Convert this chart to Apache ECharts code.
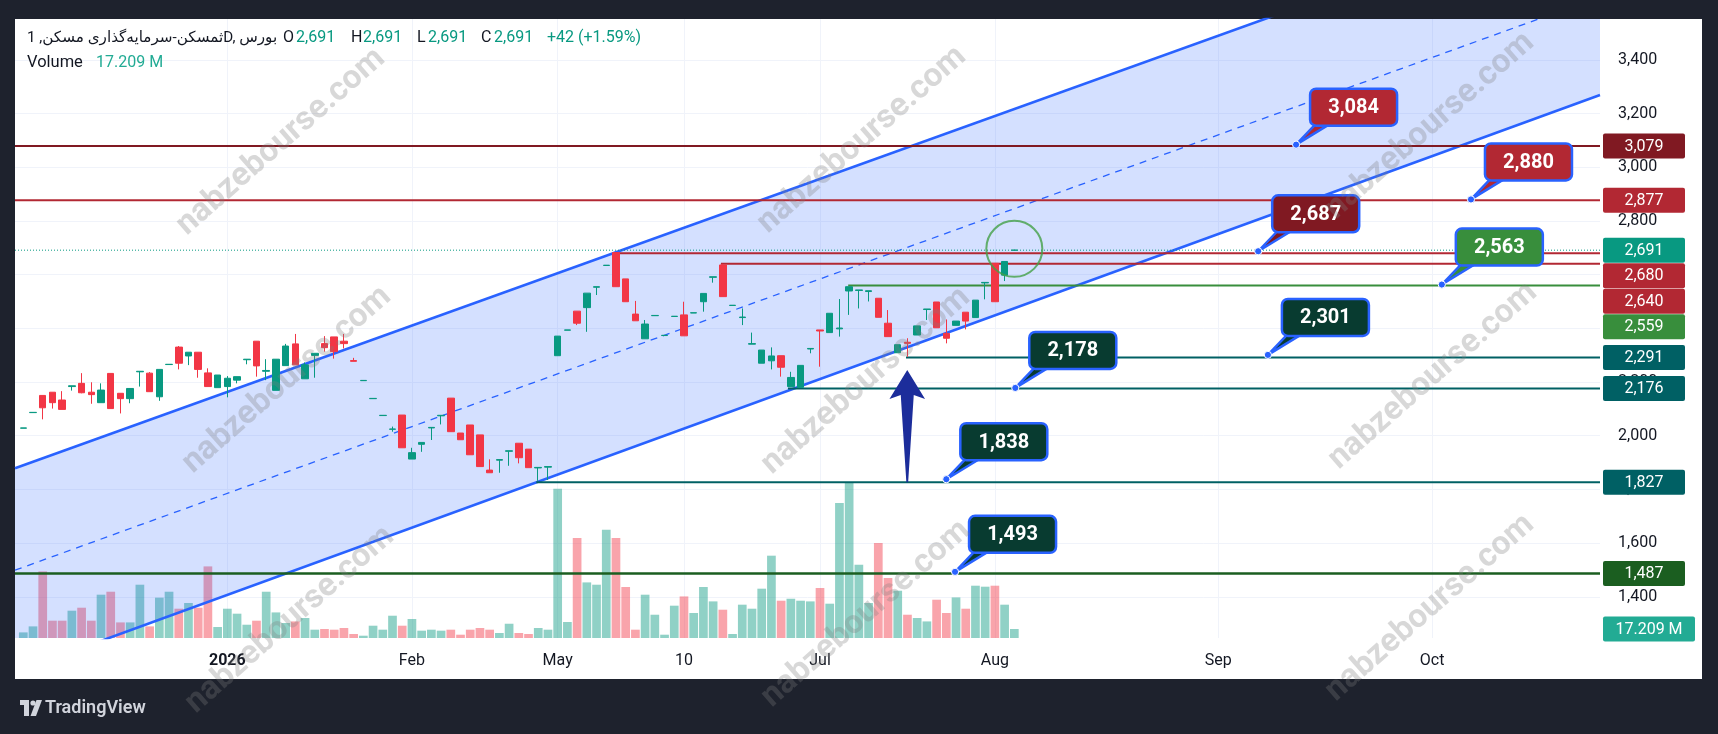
<!DOCTYPE html>
<html><head><meta charset="utf-8">
<script src="https://cdn.jsdelivr.net/npm/echarts@6/dist/echarts.min.js"></script>
<style>html,body{margin:0;padding:0;background:#1e222d}#c{width:1718px;height:734px}</style>
</head><body><div id="c"></div>
<script>
// ---------------- DATA ----------------
const xTickIdx  = [21, 40, 55, 68, 82, 100, 123, 145];
const xTickText = ['2026', 'Feb', 'May', '10', 'Jul', 'Aug', 'Sep', 'Oct'];
const priceTicks = [1400, 1600, 1800, 2000, 2200, 2400, 2600, 2800, 3000, 3200, 3400];

// [open, close, low, high]
const ohlc = [
 [2028,2029,2028,2029],[2086,2087,2086,2087],[2150,2104,2061,2150],[2162,2123,2101,2162],[2133,2098,2098,2166],
 [2183,2186,2168,2186],[2195,2160,2158,2233],[2162,2153,2119,2199],[2123,2170,2123,2195],[2232,2101,2101,2232],
 [2158,2138,2083,2158],[2138,2176,2121,2176],[2238,2240,2183,2240],[2233,2164,2164,2237],[2145,2247,2130,2247],
 [2265,2266,2265,2266],[2330,2270,2247,2334],[2297,2311,2263,2311],[2311,2247,2216,2311],[2234,2183,2183,2251],
 [2179,2226,2179,2226],[2183,2214,2143,2222],[2207,2220,2195,2220],[2283,2285,2266,2285],[2352,2260,2220,2352],
 [2240,2243,2207,2285],[2169,2285,2169,2285],[2261,2334,2261,2342],[2342,2264,2264,2379],[2212,2264,2212,2273],
 [2299,2307,2216,2307],[2343,2328,2313,2371],[2368,2313,2287,2368],[2352,2343,2325,2379],[2280,2277,2277,2290],
 [2205,2206,2205,2206],[2138,2139,2138,2139],[2075,2076,2075,2076],[2024,2025,2015,2034],[2077,1955,1955,2077],
 [1913,1937,1913,1955],[1968,1975,1940,1975],[2029,2031,1984,2031],[2074,2076,2042,2076],[2140,2015,2015,2140],
 [2010,1985,1985,2010],[2040,1929,1929,2040],[2003,1885,1885,2003],[1872,1862,1862,1912],[1909,1911,1862,1911],
 [1942,1944,1888,1944],[1972,1918,1897,1972],[1950,1881,1881,1950],[1880,1882,1832,1882],[1883,1885,1835,1885],
 [2298,2371,2298,2371],[2393,2394,2393,2394],[2464,2419,2412,2464],[2477,2531,2387,2531],[2553,2555,2524,2555],
 [2634,2635,2634,2635],[2682,2555,2555,2682],[2584,2499,2499,2584],[2453,2428,2428,2502],[2361,2416,2361,2431],
 [2447,2448,2447,2448],[2373,2374,2373,2374],[2444,2445,2444,2445],[2450,2372,2372,2499],[2457,2458,2457,2458],
 [2499,2530,2462,2530],[2590,2592,2570,2592],[2636,2518,2518,2640],[2485,2486,2485,2486],[2440,2442,2412,2474],
 [2341,2343,2341,2384],[2270,2319,2270,2319],[2279,2297,2247,2329],[2298,2255,2220,2298],[2183,2217,2183,2238],
 [2180,2262,2180,2262],[2323,2325,2307,2325],[2394,2390,2257,2394],[2384,2456,2384,2456],[2398,2401,2369,2509],
 [2539,2555,2450,2555],[2541,2543,2474,2543],[2537,2540,2500,2540],[2512,2441,2441,2512],[2419,2369,2369,2468],
 [2309,2339,2309,2339],[2348,2344,2294,2363],[2375,2409,2375,2409],[2470,2472,2431,2472],[2498,2402,2402,2498],
 [2381,2363,2344,2433],[2411,2427,2411,2427],[2460,2427,2396,2460],[2440,2505,2440,2505],[2569,2571,2508,2571],
 [2642,2499,2499,2642],[2598,2649,2576,2649],[2691,2691,2691,2691]
];
// volume, millions
const volumes = [
 10.7,22.2,127.3,33.1,33.1,52.2,57.9,33.1,82.8,88.5,
 29.8,29.8,101.9,22.2,77.1,88.5,56.0,66.9,57.9,136.9,
 21.0,56.0,46.5,25.4,33.1,88.5,48.9,28.7,31.7,38.2,
 15.9,17.2,15.9,19.1,7.6,4.4,23.5,15.9,42.6,23.5,
 36.3,14.0,15.9,14.0,15.9,6.3,15.9,19.1,15.9,9.6,
 27.3,9.6,7.6,19.1,15.9,285.5,30.6,191.2,106.3,101.9,
 207.1,191.2,97.5,15.9,82.8,44.5,6.3,61.8,79.5,47.8,
 97.5,70.0,54.1,7.6,63.7,56.0,94.3,157.4,71.3,75.1,
 71.3,70.0,95.6,65.6,258.1,296.4,140.1,66.9,181.6,114.7,
 90.4,44.5,38.2,31.7,73.2,47.8,77.6,56.0,100.0,98.1,
 100.0,63.7,17.209
];
// channel anchor points [barIndex, price]
const channelUpper = [[0, 1890.2], [160, 3971.0]];
const channelLower = [[0, 1130.4], [160, 3239.0]];
// horizontal levels
const levelPrices = [3079, 2877, 2680, 2640, 2559, 2291, 2176, 1827, 1487];
const levelStart  = [null, null, 60.9, 71.8, 84.9, 90.85, 78.7, 52.8, null];
// callouts
const calloutK     = [131.0, 149.0, 127.1, 146.0, 128.1, 102.1, 95.0, 95.9];
const calloutValue = [3084, 2880, 2687, 2563, 2301, 2178, 1838, 1493];
// arrow [barIndex, fromPrice, toPrice]
const arrowMark = [90.98, 1827, 2245];
// circle [barIndex, price]
const circleMark = [102, 2696];
// price axis tags
const tagValues = [3079, 2877, 2691, 2680, 2640, 2559, 2291, 2176, 1827, 1487];
const titleText = 'ثمسکن-سرمایه‌گذاری مسکن, 1D, بورس';

// ---------------- STYLE ----------------
const FONT = 'Roboto, "Noto Sans", "DejaVu Sans", sans-serif';
const UP = '#089981', DOWN = '#f23645';
const levelColors = ['#801922', '#b22833', '#b22833', '#b22833', '#388e3c', '#006064', '#006064', '#006064', '#1b5e20'];
const levelWidths = [2, 2, 2, 2, 2, 2, 2, 2, 2.6];
const calloutColors = ['#b22833', '#b22833', '#801922', '#388e3c', '#083b30', '#083b30', '#083b30', '#083b30'];
const tagColors = ['#801922', '#b22833', '#089981', '#b22833', '#b22833', '#388e3c', '#006064', '#006064', '#006064', '#1b5e20'];

const X_MIN = -0.854, X_MAX = 162.28;
const Y_MIN = 1246.6, Y_MAX = 3552;
const VOL_MAX = 1183.6;

const fmt = v => v.toLocaleString('en-US');
function extend(pts) {
  const [a, b] = pts; const s = (b[1] - a[1]) / (b[0] - a[0]);
  return [[X_MIN, a[1] + s * (X_MIN - a[0])], [X_MAX, a[1] + s * (X_MAX - a[0])]];
}
const up = ohlc.map((d, i) => d[1] > d[0] || (d[1] === d[0] && (i === 0 || d[1] >= ohlc[i - 1][1])));
const upper = extend(channelUpper), lower = extend(channelLower);
const mid = [[X_MIN, (upper[0][1] + lower[0][1]) / 2], [X_MAX, (upper[1][1] + lower[1][1]) / 2]];

const last = ohlc[ohlc.length - 1], prevClose = ohlc[ohlc.length - 2][1];
const chg = last[1] - prevClose;
const chgTxt = (chg >= 0 ? '+' : '') + chg + ' (' + (chg >= 0 ? '+' : '') + (chg / prevClose * 100).toFixed(2) + '%)';
const volTxt = volumes[volumes.length - 1].toFixed(3) + ' M';

const chart = echarts.init(document.getElementById('c'), null, { renderer: 'canvas' });

const gridClip = params => ({ type: 'rect', shape: { x: params.coordSys.x, y: params.coordSys.y, width: params.coordSys.width, height: params.coordSys.height } });

let tagY = [];
const series = [
  { type: 'bar', name: 'vol', yAxisIndex: 1, barWidth: 8.7, z: 1, silent: true,
    data: volumes.map((v, i) => ({ value: [i, v], itemStyle: { color: up[i] ? 'rgba(8,153,129,0.45)' : 'rgba(242,54,69,0.45)' } })) },
  { type: 'custom', z: 2, silent: true, clip: true, data: [[0, 2000]],
    renderItem(params, api) {
      const pts = [upper[0], upper[1], lower[1], lower[0]].map(p => api.coord(p));
      return { type: 'polygon', shape: { points: pts }, style: { fill: 'rgba(41,98,255,0.2)' }, clipPath: gridClip(params) };
    } },
  { type: 'line', symbol: 'none', z: 3, silent: true, lineStyle: { color: '#2962ff', width: 2.6 }, data: upper },
  { type: 'line', symbol: 'none', z: 3, silent: true, lineStyle: { color: '#2962ff', width: 2.6 }, data: lower },
  { type: 'line', symbol: 'none', z: 3, silent: true, lineStyle: { color: '#2962ff', width: 1.3, type: [7, 6] }, data: mid },
  ...levelPrices.map((p, i) => ({ type: 'line', symbol: 'none', z: 3, silent: true,
    lineStyle: { color: levelColors[i], width: levelWidths[i] },
    data: [[levelStart[i] == null ? X_MIN : levelStart[i], p], [X_MAX, p]] })),
  { type: 'line', symbol: 'none', z: 3, silent: true, lineStyle: { color: UP, width: 1, type: [1, 2] },
    data: [[X_MIN, last[1]], [X_MAX, last[1]]] },
  { type: 'candlestick', z: 4, barWidth: 7, silent: true,
    encode: { x: 0, y: [1, 2, 3, 4] },
    data: ohlc.map((d, i) => [i, d[0], d[1], d[2], d[3]]),
    itemStyle: { color: UP, color0: DOWN, borderColor: UP, borderColor0: DOWN, borderColorDoji: UP, borderWidth: 1 } },
  { type: 'scatter', z: 5, silent: true, symbol: 'circle', symbolSize: 56,
    itemStyle: { color: 'rgba(0,0,0,0)', borderColor: '#43a047', borderWidth: 2 }, data: [circleMark] },
  { type: 'custom', z: 5, silent: true, data: [arrowMark],
    renderItem(params, api) {
      const b = api.coord([api.value(0), api.value(1)]);
      const t = api.coord([api.value(0), api.value(2)]);
      const cx = t[0], ty = t[1];
      return { type: 'polygon', shape: { points: [[cx, ty], [cx + 17.8, ty + 29], [cx + 6.5, ty + 25], [cx + 0.9, b[1]], [cx - 0.9, b[1]], [cx - 6.5, ty + 25], [cx - 17.8, ty + 29]] },
        style: { fill: '#1c2d9b' } };
    } },
  { type: 'custom', z: 6, silent: true, data: calloutK.map((k, i) => [k, calloutValue[i]]),
    renderItem(params, api) {
      const i = params.dataIndex;
      const p = api.coord([api.value(0), api.value(1)]);
      const L = p[0] + 14, B = p[1] - 19, W = 87, H = 37;
      const fill = calloutColors[i];
      return { type: 'group', children: [
        { type: 'polygon', shape: { points: [[p[0], p[1]], [L + 7, B - 3], [L + 22, B - 3]] }, style: { fill, stroke: '#2962ff', lineWidth: 2.5, lineJoin: 'round' } },
        { type: 'rect', shape: { x: L, y: B - H, width: W, height: H, r: 6 }, style: { fill, stroke: '#2962ff', lineWidth: 2.5 } },
        { type: 'text', style: { text: fmt(calloutValue[i]), x: L + W / 2, y: B - H / 2 + 1, align: 'center', verticalAlign: 'middle', fill: '#ffffff', fontSize: 20, fontWeight: 'bold', fontFamily: FONT } },
        { type: 'circle', shape: { cx: p[0], cy: p[1], r: 3.6 }, style: { fill: '#2962ff', stroke: '#ffffff', lineWidth: 1 } }
      ] };
    } },
  { type: 'custom', z: 7, silent: true, clip: false, data: tagValues.map(v => [X_MAX, v]),
    renderItem(params, api) {
      const i = params.dataIndex;
      if (i === 0) {
        let prev = -Infinity;
        tagY = tagValues.map(v => { const y = Math.max(api.coord([X_MAX, v])[1], prev + 25.5); prev = y; return y; });
      }
      const y = tagY[i];
      const x = params.coordSys.x + params.coordSys.width + 3;
      return { type: 'group', children: [
        { type: 'rect', shape: { x, y: y - 12.5, width: 82, height: 25, r: 2 }, style: { fill: tagColors[i] } },
        { type: 'text', style: { text: fmt(tagValues[i]), x: x + 41, y: y + 0.5, align: 'center', verticalAlign: 'middle', fill: '#ffffff', fontSize: 16, fontFamily: FONT } }
      ] };
    } },
  { type: 'custom', z: 7, silent: true, clip: false, yAxisIndex: 1, data: [[X_MAX, volumes[volumes.length - 1]]],
    renderItem(params, api) {
      const y = api.coord([api.value(0), api.value(1)])[1];
      const x = params.coordSys.x + params.coordSys.width + 3;
      return { type: 'group', children: [
        { type: 'rect', shape: { x, y: y - 12.5, width: 92, height: 25, r: 2 }, style: { fill: '#22ab94' } },
        { type: 'text', style: { text: volTxt, x: x + 46, y: y + 0.5, align: 'center', verticalAlign: 'middle', fill: '#ffffff', fontSize: 16, fontFamily: FONT } }
      ] };
    } }
];

const wmPos = [[281, 142], [862, 140], [1430, 126], [287, 380], [866, 381], [1433, 376], [290, 620], [866, 614], [1430, 608]];
const T = (text, x, y, fill, extra) => Object.assign({ type: 'text', x, y, silent: true, z: 50,
  style: Object.assign({ text, fill, fontSize: 16, fontFamily: FONT, verticalAlign: 'middle' }, extra || {}) });

const graphic = [
  { type: 'rect', shape: { x: 15, y: 19, width: 1687, height: 660 }, style: { fill: '#ffffff' }, z: -10, silent: true },
  T(titleText, 27, 38, '#131722', { fontSize: 15.2 }),
  T('O', 283, 38, '#131722'), T(fmt(last[0]), 296, 38, UP),
  T('H', 351, 38, '#131722'), T(fmt(last[3]), 363, 38, UP),
  T('L', 417, 38, '#131722'), T(fmt(last[2]), 428, 38, UP),
  T('C', 481, 38, '#131722'), T(fmt(last[1]), 494, 38, UP),
  T(chgTxt, 547, 38, UP),
  T('Volume', 27, 63, '#131722', { fontSize: 16.5 }), T(volTxt, 96, 63, '#22ab94'),
  { type: 'group', silent: true, z: 50, children: [
    { type: 'rect', shape: { x: 20, y: 700, width: 9, height: 5 }, style: { fill: '#d1d4dc' } },
    { type: 'rect', shape: { x: 24, y: 700, width: 5, height: 16 }, style: { fill: '#d1d4dc' } },
    { type: 'circle', shape: { cx: 33, cy: 703, r: 2.6 }, style: { fill: '#d1d4dc' } },
    { type: 'polygon', shape: { points: [[36.5, 700], [42, 700], [36, 716], [30.5, 716]] }, style: { fill: '#d1d4dc' } }
  ] },
  T('TradingView', 45, 708, '#d1d4dc', { fontSize: 18, fontWeight: 600 }),
  ...wmPos.map(([x, y]) => ({ type: 'text', x, y, rotation: 0.72, silent: true, z: 100,
    style: { text: 'nabzebourse.com', fontSize: 33, fontWeight: 'bold', fontFamily: FONT, fill: 'rgba(125,125,125,0.3)', align: 'center', verticalAlign: 'middle' } }))
];

chart.setOption({
  backgroundColor: '#1e222d',
  animation: false,
  grid: { left: 15, right: 118, top: 19, bottom: 96 },
  xAxis: { type: 'value', min: X_MIN, max: X_MAX,
    axisLine: { show: false }, axisTick: { show: false, customValues: xTickIdx },
    splitLine: { show: true, lineStyle: { color: '#f0f3fa', width: 1 } },
    axisLabel: { customValues: xTickIdx, margin: 15, color: '#131722', fontSize: 16, fontFamily: FONT,
      formatter: v => { const j = xTickIdx.indexOf(v); const s = j >= 0 ? xTickText[j] : ''; return /^\d{4}$/.test(s) ? '{b|' + s + '}' : s; },
      rich: { b: { fontWeight: 'bold', fontSize: 16, fontFamily: FONT, color: '#131722' } } } },
  yAxis: [
    { type: 'value', position: 'right', min: Y_MIN, max: Y_MAX,
      axisLine: { show: false }, axisTick: { show: false, customValues: priceTicks },
      splitLine: { show: true, lineStyle: { color: '#f0f3fa', width: 1 } },
      axisLabel: { customValues: priceTicks, margin: 18, color: '#131722', fontSize: 16, fontFamily: FONT, formatter: v => fmt(v) } },
    { type: 'value', min: 0, max: VOL_MAX, show: false, splitLine: { show: false } }
  ],
  series,
  graphic
});
</script></body></html>
